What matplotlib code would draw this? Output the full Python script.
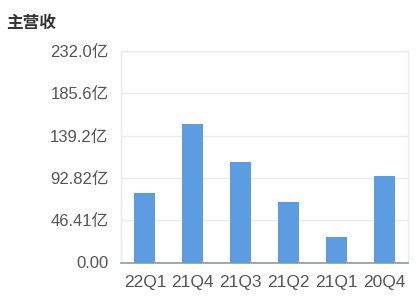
import matplotlib
matplotlib.use("Agg")
import matplotlib.pyplot as plt
import numpy as np

plt.rcParams['font.family'] = ['Liberation Sans', 'Noto Sans CJK SC', 'DejaVu Sans']

# data
quarters = ['22Q1', '21Q4', '21Q3', '21Q2', '21Q1', '20Q4']
revenue = [75.9, 151.4, 110.3, 66.3, 27.5, 94.9]  # 亿
yticks = [0, 46.41, 92.82, 139.2, 185.6, 232.0]
ytick_labels = ['0.00', '46.41亿', '92.82亿', '139.2亿', '185.6亿', '232.0亿']

fig = plt.figure(figsize=(4.16, 3.01), dpi=100)
ax = fig.add_axes([121/416, 38.5/301, 287/416, 211.5/301])

x = np.arange(len(quarters))
ax.bar(x, revenue, width=0.44, color='#5c9ce0', zorder=3)

ax.set_xlim(-0.5, len(quarters) - 0.5)
ax.set_ylim(0, 232.0)
ax.set_yticks(yticks)
ax.set_yticklabels(ytick_labels)
ax.set_xticks(x)
ax.set_xticklabels(quarters)

ax.grid(axis='y', color='#e6eaf2', linewidth=1, zorder=0)
for s in ['left', 'right', 'top']:
    ax.spines[s].set_color('#e6eaf2')
    ax.spines[s].set_linewidth(1)
ax.spines['bottom'].set_color('#8e99ab')
ax.spines['bottom'].set_linewidth(1.2)

ax.tick_params(axis='both', length=0, colors='#555555')
ax.tick_params(axis='y', pad=9, labelsize=12)
ax.tick_params(axis='x', pad=9, labelsize=12.5)

fig.text(6/416, 1 - 23/301, '主营收', fontsize=12, fontweight='bold',
         color='#333333', va='center', ha='left',
         family=['Noto Sans CJK SC', 'DejaVu Sans'])

fig.savefig('out.png', dpi=100)
